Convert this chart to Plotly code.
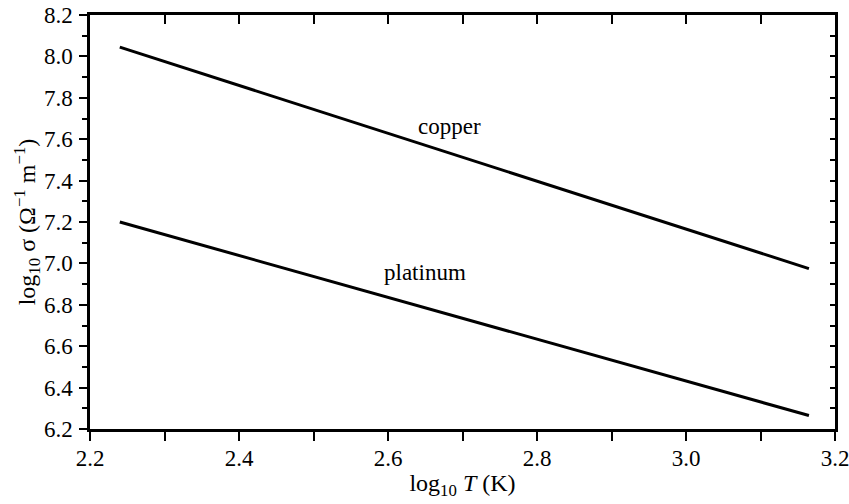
import plotly.graph_objects as go

# data
log_T = [2.24, 3.165]
copper = [8.045, 6.975]
platinum = [7.20, 6.265]
labels = ["copper", "platinum"]
label_x = [2.683, 2.650]
label_y = [7.66, 6.955]

x_ticks = [2.2, 2.4, 2.6, 2.8, 3.0, 3.2]
y_ticks = [6.2, 6.4, 6.6, 6.8, 7.0, 7.2, 7.4, 7.6, 7.8, 8.0, 8.2]

FONT = "Liberation Serif"


def tick_text(vals):
    return [f"<span style='font-family:Liberation Serif'>{v:.1f}</span>" for v in vals]


fig = go.Figure()
for ys in (copper, platinum):
    fig.add_trace(go.Scatter(x=log_T, y=ys, mode="lines",
                             line=dict(color="black", width=3), showlegend=False,
                             hoverinfo="skip"))

for t, xx, yy in zip(labels, label_x, label_y):
    fig.add_annotation(x=xx, y=yy, text=t, showarrow=False,
                       font=dict(family=FONT, size=23, color="black"))

xr = [2.2, 3.2]
yr = [6.2, 8.2]
common = dict(showgrid=False, zeroline=False, linecolor="black", linewidth=2.5,
              tickcolor="black", tickwidth=2, automargin=False)

fig.update_layout(
    template="none",
    width=849, height=504,
    margin=dict(l=90, r=14, t=15, b=75, autoexpand=False),
    plot_bgcolor="white", paper_bgcolor="white",
    font=dict(family=FONT, size=23, color="black"),
    xaxis=dict(range=xr, tickmode="array", tickvals=x_ticks,
               ticktext=tick_text(x_ticks),
               ticks="outside", ticklen=9, showline=True, ticklabelstandoff=-2,
               ticklabeloverflow="allow",
               minor=dict(dtick=0.1, tick0=2.2, ticks="outside", ticklen=9,
                          tickcolor="black", tickwidth=2),
               title=dict(text="log<sub>10</sub> <i>T</i> (K)", standoff=4,
                          font=dict(family=FONT, size=24)),
               tickfont=dict(family=FONT, size=23, color="black"), **common),
    yaxis=dict(range=yr, tickmode="array", tickvals=y_ticks,
               ticktext=tick_text(y_ticks),
               ticks="outside", ticklen=8, showline=True, ticklabelstandoff=2,
               ticklabeloverflow="allow",
               minor=dict(dtick=0.1, tick0=6.2, ticks="outside", ticklen=5,
                          tickcolor="black", tickwidth=2),
               title=dict(text="log<sub>10</sub> σ (Ω<sup>−1</sup> m<sup>−1</sup>)",
                          standoff=0, font=dict(family=FONT, size=24)),
               tickfont=dict(family=FONT, size=23, color="black"), **common),
    xaxis2=dict(range=xr, overlaying="x", side="top", dtick=0.1, tick0=2.2,
                ticks="inside", ticklen=9, showticklabels=False, showline=True,
                **common),
    yaxis2=dict(range=yr, overlaying="y", side="right", dtick=0.1, tick0=6.2,
                ticks="inside", ticklen=5, showticklabels=False, showline=True,
                **common),
)
# invisible trace to anchor the mirror axes
fig.add_trace(go.Scatter(x=[None], y=[None], xaxis="x2", yaxis="y2",
                         showlegend=False, hoverinfo="skip"))

fig.write_html("out.html", config={"displayModeBar": False},
               post_script="document.body.style.margin='0';document.body.style.overflow='hidden';")
